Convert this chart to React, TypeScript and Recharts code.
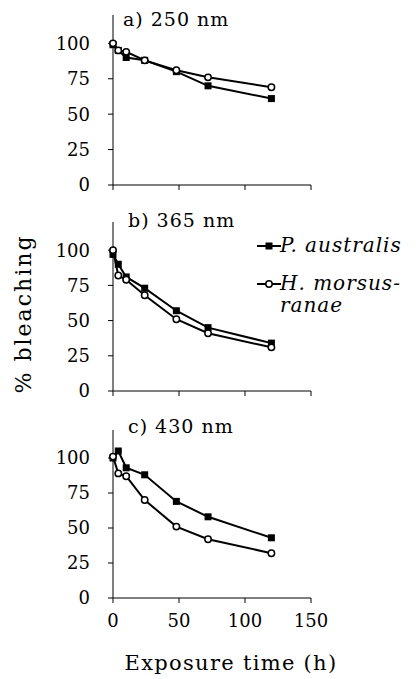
import React from 'react';
import { LineChart, Line, XAxis, YAxis } from 'recharts';

const times = [0, 4, 10, 24, 48, 72, 120];

const australis250 = [99, 95, 90, 88, 80, 70, 61];
const morsus250 = [100, 95, 94, 88, 81, 76, 69];
const australis365 = [97, 90, 81, 73, 57, 45, 34];
const morsus365 = [100, 82, 79, 68, 51, 41, 31];
const australis430 = [100, 105, 93, 88, 69, 58, 43];
const morsus430 = [101, 89, 87, 70, 51, 42, 32];

const xTicks = [0, 50, 100, 150];
const yTicks = [0, 25, 50, 75, 100];
const seriesNames = ['P. australis', 'H. morsus-ranae'];

const serif = '"DejaVu Serif", serif';
const tickStyle = { fontFamily: serif, fontSize: 18, fill: '#000' };

const build = (a: number[], m: number[]) =>
  times.map((t, i) => ({ t, australis: a[i], morsus: m[i] }));

const SquareDot = (props: any) => {
  const { cx, cy, index } = props;
  return <rect key={`sq-${index}`} x={cx - 3.5} y={cy - 3.5} width={7} height={7} fill="#000" />;
};

const LegendIcon = ({ filled }: { filled: boolean }) => (
  <svg width={24} height={12} style={{ display: 'block' }}>
    <line x1={0} y1={6} x2={24} y2={6} stroke="#000" strokeWidth={2} />
    {filled ? (
      <rect x={8.5} y={2.5} width={7} height={7} fill="#000" />
    ) : (
      <circle cx={12} cy={6} r={3.2} fill="#fff" stroke="#000" strokeWidth={1.5} />
    )}
  </svg>
);

const legendText: React.CSSProperties = {
  position: 'absolute',
  left: 23,
  lineHeight: '20px',
  whiteSpace: 'nowrap',
};

// legend sits beside the middle panel
const LegendBox = () => (
  <div style={{ position: 'absolute', left: 257, top: 232, width: 160, height: 90, fontFamily: serif, fontStyle: 'italic', fontSize: 20, letterSpacing: 1, color: '#000' }}>
    <div style={{ position: 'absolute', left: 0, top: 8 }}><LegendIcon filled /></div>
    <div style={{ ...legendText, top: 3 }}>{seriesNames[0]}</div>
    <div style={{ position: 'absolute', left: 0, top: 46 }}><LegendIcon filled={false} /></div>
    <div style={{ ...legendText, top: 41 }}>H. morsus-</div>
    <div style={{ ...legendText, top: 63 }}>ranae</div>
  </div>
);

interface PanelProps {
  a: number[];
  m: number[];
  top: number;
  height: number;
  xHeight: number;
  bottomAxis?: boolean;
}

const Panel = ({ a, m, top, height, xHeight, bottomAxis }: PanelProps) => (
  <div style={{ position: 'absolute', left: 0, top }}>
    <LineChart width={417} height={height} data={build(a, m)} margin={{ top: 15, right: 106, left: 0, bottom: 0 }}>
      <XAxis
        type="number"
        dataKey="t"
        domain={[0, 150]}
        ticks={xTicks}
        interval={0}
        height={xHeight}
        tickSize={5}
        tickMargin={11}
        axisLine={{ stroke: '#000' }}
        tickLine={{ stroke: '#000' }}
        tick={tickStyle}
        tickFormatter={bottomAxis ? (v: number) => String(v) : () => ''}
        label={
          bottomAxis
            ? (p: any) => (
                <text
                  x={p.viewBox.x + p.viewBox.width / 2 + 19}
                  y={p.viewBox.y + 72}
                  textAnchor="middle"
                  fontFamily={serif}
                  fontSize={21}
                  letterSpacing={1.3}
                  fill="#000"
                >
                  Exposure time (h)
                </text>
              )
            : undefined
        }
      />
      <YAxis
        type="number"
        domain={[0, 120]}
        ticks={yTicks}
        interval={0}
        width={113}
        tickSize={5}
        tickMargin={18}
        axisLine={{ stroke: '#000' }}
        tickLine={{ stroke: '#000' }}
        tick={tickStyle}
      />
      <Line
        dataKey="australis"
        name={seriesNames[0]}
        stroke="#000"
        strokeWidth={2}
        dot={SquareDot}
        isAnimationActive={false}
      />
      <Line
        dataKey="morsus"
        name={seriesNames[1]}
        stroke="#000"
        strokeWidth={2}
        dot={{ r: 3.2, fill: '#fff', stroke: '#000', strokeWidth: 1.5 }}
        isAnimationActive={false}
      />
    </LineChart>
  </div>
);

const titleStyle: React.CSSProperties = {
  position: 'absolute',
  fontFamily: serif,
  fontSize: 19,
  letterSpacing: 1,
  lineHeight: '20px',
  color: '#000',
  whiteSpace: 'nowrap',
};

export default function App() {
  return (
    <div style={{ position: 'absolute', left: 0, top: 0, width: 417, height: 679, background: '#fff' }}>
      <Panel a={australis250} m={morsus250} top={0} height={195} xHeight={10} />
      <Panel a={australis365} m={morsus365} top={207} height={194} xHeight={10} />
      <Panel a={australis430} m={morsus430} top={415} height={264} xHeight={81} bottomAxis />
      <div style={{ ...titleStyle, left: 123, top: 9 }}>a) 250 nm</div>
      <div style={{ ...titleStyle, left: 128, top: 210 }}>b) 365 nm</div>
      <div style={{ ...titleStyle, left: 128, top: 416 }}>c) 430 nm</div>
      <LegendBox />
      <svg width={40} height={200} style={{ position: 'absolute', left: 0, top: 214 }}>
        <text
          x={23}
          y={100}
          transform="rotate(-90, 23, 100)"
          textAnchor="middle"
          dominantBaseline="central"
          fontFamily={serif}
          fontSize={22}
          letterSpacing={2}
          fill="#000"
        >
          % bleaching
        </text>
      </svg>
    </div>
  );
}
